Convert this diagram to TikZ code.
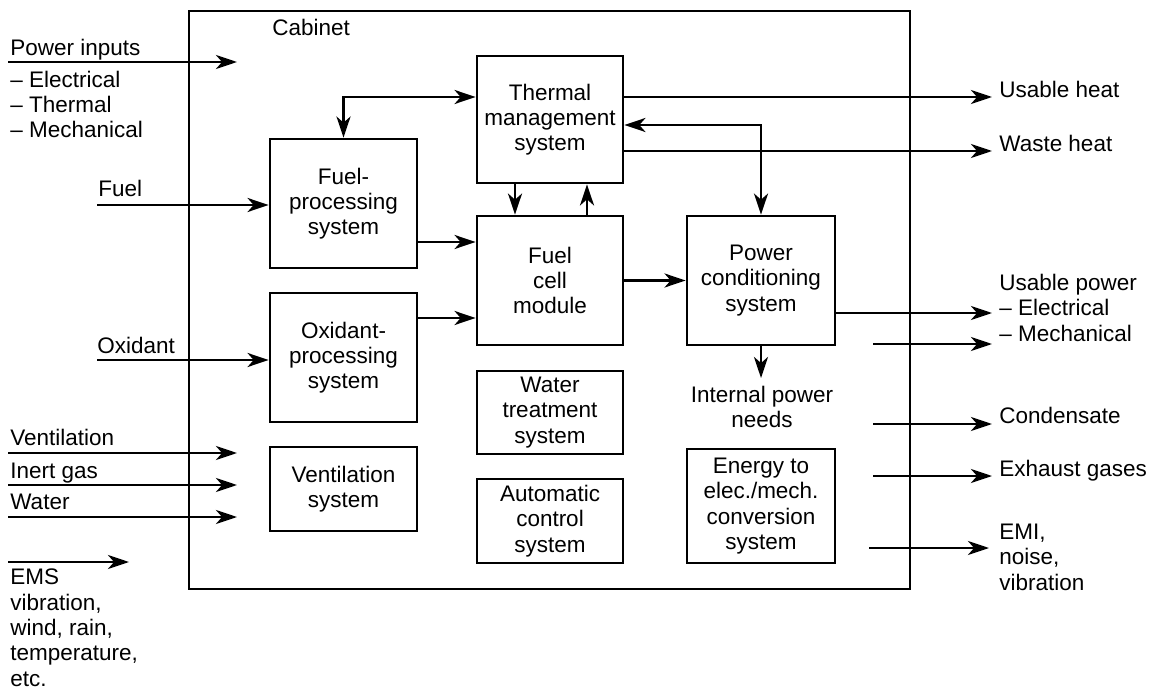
\documentclass[tikz,border=0pt]{standalone}
\usepackage{fontspec}
\setmainfont{Liberation Sans}
\usetikzlibrary{arrows.meta,positioning}

\begin{document}
\begin{tikzpicture}[x=0.02cm,y=-0.02cm,>={Stealth[length=12pt,width=8pt,inset=3.5pt]},
font=\fontsize{12.8}{14.4}\selectfont,
block/.style={draw,line width=1.6pt,align=center,inner sep=0pt},
flow/.style={->,line width=1.4pt},
lbl/.style={anchor=base west,align=left,inner sep=0pt}]
\useasboundingbox (0,0) rectangle (1156,689);
\node[draw,line width=1.6pt,minimum width=14.42cm,minimum height=11.56cm] (cab) at (549.5,300) {};
\node[lbl] (cabl) at (272,36) {Cabinet};
\node[block,minimum width=2.94cm,minimum height=2.58cm] (fps) at (343.5,203.5) {Fuel-\\processing\\system};
\node[block,minimum width=2.92cm,minimum height=2.54cm] (tms) at (550,119.5) {Thermal\\management\\system};
\node[block,minimum width=2.92cm,minimum height=2.58cm] (fcm) at (550,280.5) {Fuel\\cell\\module};
\node[block,minimum width=2.96cm,minimum height=2.58cm] (pcs) at (761,280.5) {Power\\conditioning\\system};
\node[block,minimum width=2.94cm,minimum height=2.58cm] (oxp) at (343.5,357.5) {Oxidant-\\processing\\system};
\node[block,minimum width=2.94cm,minimum height=1.68cm] (vent) at (343.5,489) {Ventilation\\system};
\node[block,minimum width=2.92cm,minimum height=1.66cm] (wts) at (550,412.5) {Water\\treatment\\system};
\node[block,minimum width=2.92cm,minimum height=1.68cm] (acs) at (550,521) {Automatic\\control\\system};
\node[block,minimum width=2.96cm,minimum height=2.28cm] (ecs) at (761,506) {Energy to\\elec./mech.\\conversion\\system};
\node[align=center,anchor=north,inner xsep=0pt,inner ysep=4.5pt] (ipn) at (762,378) {Internal power\\needs};
\node[lbl] (pwrl) at (10,56) {Power inputs};
\node[lbl] (pwrkl) at (10,138) {-- Electrical\\-- Thermal\\-- Mechanical};
\node[lbl] (fuell) at (98,197) {Fuel};
\node[lbl] (oxl) at (97,353) {Oxidant};
\node[lbl] (ventl) at (10,445) {Ventilation};
\node[lbl] (inertl) at (10,478) {Inert gas};
\node[lbl] (waterl) at (10,509) {Water};
\node[lbl] (emsl) at (10,686) {EMS\\vibration,\\wind, rain,\\temperature,\\etc.};
\node[lbl] (heatl) at (999,98) {Usable heat};
\node[lbl] (wastel) at (999,152) {Waste heat};
\node[lbl] (powl) at (999,341) {Usable power\\-- Electrical\\-- Mechanical};
\node[lbl] (condl) at (999,423) {Condensate};
\node[lbl] (exhl) at (999,476) {Exhaust gases};
\node[lbl] (emil) at (999,590) {EMI,\\noise,\\vibration};
\coordinate (pwr0) at (8,62); \coordinate (pwr1) at (237,62);
\coordinate (fuel0) at (97,205);
\coordinate (ox0) at (97,360);
\coordinate (vent0) at (8,453); \coordinate (vent1) at (237,453);
\coordinate (inert0) at (8,485); \coordinate (inert1) at (237,485);
\coordinate (water0) at (8,517); \coordinate (water1) at (237,517);
\coordinate (ems0) at (8,562); \coordinate (ems1) at (129,562);
\coordinate (heat1) at (992,97);
\coordinate (waste1) at (992,151);
\coordinate (pow1) at (992,313);
\coordinate (mech0) at (873,344); \coordinate (mech1) at (992,344);
\coordinate (cond0) at (873,424); \coordinate (cond1) at (992,424);
\coordinate (exh0) at (873,476); \coordinate (exh1) at (992,476);
\coordinate (emi0) at (869,548); \coordinate (emi1) at (989,548);
\draw[flow] (pwr0) -- (pwr1);
\draw[flow] (fuel0) -- (fuel0 -| fps.west);
\draw[flow] (ox0) -- (ox0 -| oxp.west);
\draw[flow] (vent0) -- (vent1);
\draw[flow] (inert0) -- (inert1);
\draw[flow] (water0) -- (water1);
\draw[flow] (ems0) -- (ems1);
\draw[flow,<->] (fps.north) |- (tms.west |- 0,97);
\draw[flow] (tms.south -| 515,0) -- (fcm.north -| 515,0);
\draw[flow] (fcm.north -| 587,0) -- (tms.south -| 587,0);
\draw[flow] (fps.east |- 0,242) -- (fcm.west |- 0,242);
\draw[flow] (oxp.east |- 0,318) -- (fcm.west |- 0,318);
\draw[flow] (fcm.east) -- (pcs.west);
\draw[flow,<->] (tms.east |- 0,125) -| (pcs.north);
\draw[flow] (tms.east |- 0,97) -- (heat1);
\draw[flow] (tms.east |- 0,151) -- (waste1);
\draw[flow] (pcs.east |- 0,313) -- (pow1);
\draw[flow] (pcs.south) -- (pcs.south |- ipn.north);
\draw[flow] (mech0) -- (mech1);
\draw[flow] (cond0) -- (cond1);
\draw[flow] (exh0) -- (exh1);
\draw[flow] (emi0) -- (emi1);
\end{tikzpicture}
\end{document}
